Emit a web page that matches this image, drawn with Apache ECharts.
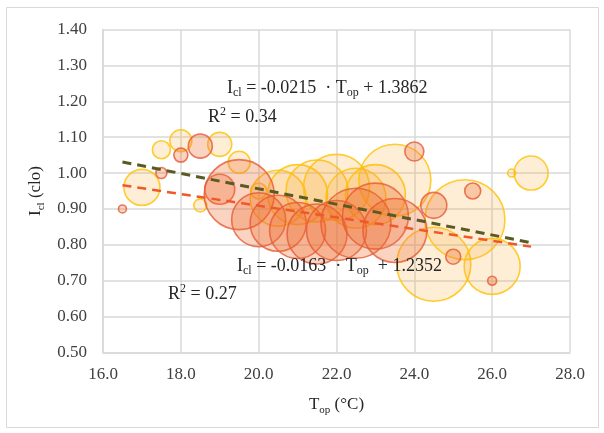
<!DOCTYPE html>
<html><head><meta charset="utf-8">
<script src="https://cdn.jsdelivr.net/npm/echarts@6/dist/echarts.min.js"></script>
<style>html,body{margin:0;padding:0;background:#fff}#c{width:604px;height:433px}</style>
</head><body><div id="c"></div>
<script>
// Axis ticks
const xMin = 16, xMax = 28, xStep = 2;
const yMin = 0.5, yMax = 1.4, yStep = 0.1;

// Series A (yellow bubbles): T_op, I_cl, bubble size
const yellowX    = [17.0, 17.5, 18.0, 18.5, 19.0, 19.5, 20.0, 20.5, 21.0, 21.5, 22.0, 22.5, 23.0, 23.5, 24.5, 25.3, 26.0, 26.5, 27.0];
const yellowY    = [0.96, 1.065, 1.09, 0.91, 1.08, 1.03, 0.95, 0.93, 0.94, 0.95, 0.96, 0.93, 0.94, 0.98, 0.746, 0.87, 0.74, 1.00, 1.00];
const yellowSize = [18, 9, 11, 6.5, 12, 11, 8, 28, 30, 31, 33, 30, 30, 36, 37, 40, 28, 4, 17];

// Series B (red bubbles)
const redX    = [16.5, 17.5, 18.0, 18.5, 19.0, 19.5, 20.0, 20.5, 21.0, 21.5, 22.0, 22.5, 23.0, 23.5, 24.0, 24.5, 25.0, 25.5, 26.0];
const redY    = [0.90, 1.00, 1.05, 1.075, 0.955, 0.94, 0.87, 0.86, 0.84, 0.83, 0.84, 0.86, 0.88, 0.84, 1.06, 0.91, 0.767, 0.95, 0.70];
const redSize = [4, 5.5, 7, 12, 15, 35, 27, 28, 28, 30, 30, 35, 33, 32, 9.5, 13, 7.5, 8, 4.5];

// Linear trendlines (end points)
const trendAX = [16.5, 27.0], trendAY = [1.031, 0.806];
const trendBX = [16.5, 27.0], trendBY = [0.966, 0.795];

// Texts
const eqA = ['I', 'cl', ' = -0.0215  · T', 'op', ' + 1.3862'];
const r2A = ['R', '2', ' = 0.34'];
const eqB = ['I', 'cl', ' = -0.0163  · T', 'op', '  + 1.2352'];
const r2B = ['R', '2', ' = 0.27'];
const xName = ['T', 'op', ' (°C)'];
const yName = ['I', 'cl', ' (clo)'];

const FONT = 'Liberation Serif';
const zip3 = (a, b, c) => a.map((v, i) => [v, b[i], c[i]]);
const zip2 = (a, b) => a.map((v, i) => [v, b[i]]);

const richBase = (fs) => ({
  a: {fontFamily: FONT, fontSize: fs, color: '#262626', lineHeight: fs + 4},
  s: {fontFamily: FONT, fontSize: Math.round(fs * 0.66), color: '#262626', lineHeight: fs - 4, verticalAlign: 'bottom'},
  p: {fontFamily: FONT, fontSize: Math.round(fs * 0.66), color: '#262626', lineHeight: fs - 4, verticalAlign: 'top'}
});
const subText = (parts) => `{a|${parts[0]}}{s|${parts[1]}}{a|${parts[2]}}` + (parts.length > 3 ? `{s|${parts[3]}}{a|${parts[4]}}` : '');
const supText = (parts) => `{a|${parts[0]}}{p|${parts[1]}}{a|${parts[2]}}`;

const chart = echarts.init(document.getElementById('c'), null, {renderer: 'canvas'});

function textEl(x, y, text, fs) {
  return {type: 'text', x: x, y: y, z: 100,
    style: {text: text, rich: richBase(fs), verticalAlign: 'middle', align: 'left', fill: '#262626', font: fs + 'px ' + FONT}};
}

chart.setOption({
  animation: false,
  backgroundColor: '#fff',
  grid: {left: 103, right: 34, top: 29.5, bottom: 80.5, containLabel: false},
  xAxis: {
    type: 'value', min: xMin, max: xMax, interval: xStep,
    axisLine: {show: true, lineStyle: {color: '#D9D9D9', width: 1.5}},
    axisTick: {show: false},
    splitLine: {show: true, lineStyle: {color: '#D9D9D9', width: 1.5}},
    axisLabel: {formatter: v => v.toFixed(1), fontFamily: FONT, fontSize: 17, color: '#404040', margin: 14},
    name: subText(xName), nameLocation: 'middle', nameGap: 42,
    nameTextStyle: {rich: richBase(17)}
  },
  yAxis: {
    type: 'value', min: yMin, max: yMax, interval: yStep,
    axisLine: {show: true, lineStyle: {color: '#D9D9D9', width: 1.5}},
    axisTick: {show: false},
    splitLine: {show: true, lineStyle: {color: '#D9D9D9', width: 1.5}},
    axisLabel: {formatter: v => v.toFixed(2), fontFamily: FONT, fontSize: 17, color: '#404040', margin: 16},
    name: subText(yName), nameLocation: 'middle', nameGap: 50, nameRotate: 90,
    nameTextStyle: {rich: richBase(17)}
  },
  series: [
    {type: 'scatter', name: 'A', data: zip3(yellowX, yellowY, yellowSize),
      symbolSize: d => d[2] * 2,
      itemStyle: {color: 'rgba(248,165,40,0.24)', borderColor: '#FFC000', borderWidth: 1.6}, z: 2},
    {type: 'scatter', name: 'B', data: zip3(redX, redY, redSize),
      symbolSize: d => d[2] * 2,
      itemStyle: {color: 'rgba(238,105,40,0.36)', borderColor: '#E65A36', borderWidth: 1.6}, z: 3},
    {type: 'line', name: 'trendA', data: zip2(trendAX, trendAY), symbol: 'none', z: 5,
      lineStyle: {color: '#5A5A22', width: 3, type: [9, 6]}},
    {type: 'line', name: 'trendB', data: zip2(trendBX, trendBY), symbol: 'none', z: 5,
      lineStyle: {color: '#F0582A', width: 2.5, type: [9, 6]}}
  ],
  graphic: [
    {type: 'rect', shape: {x: 6.5, y: 7.5, width: 592, height: 420}, style: {fill: 'none', stroke: '#D9D9D9', lineWidth: 1}, z: 0, silent: true},
    textEl(227, 88, subText(eqA), 18),
    textEl(208, 117, supText(r2A), 18),
    textEl(237, 266, subText(eqB), 18),
    textEl(168, 294, supText(r2B), 18)
  ]
});
</script></body></html>
